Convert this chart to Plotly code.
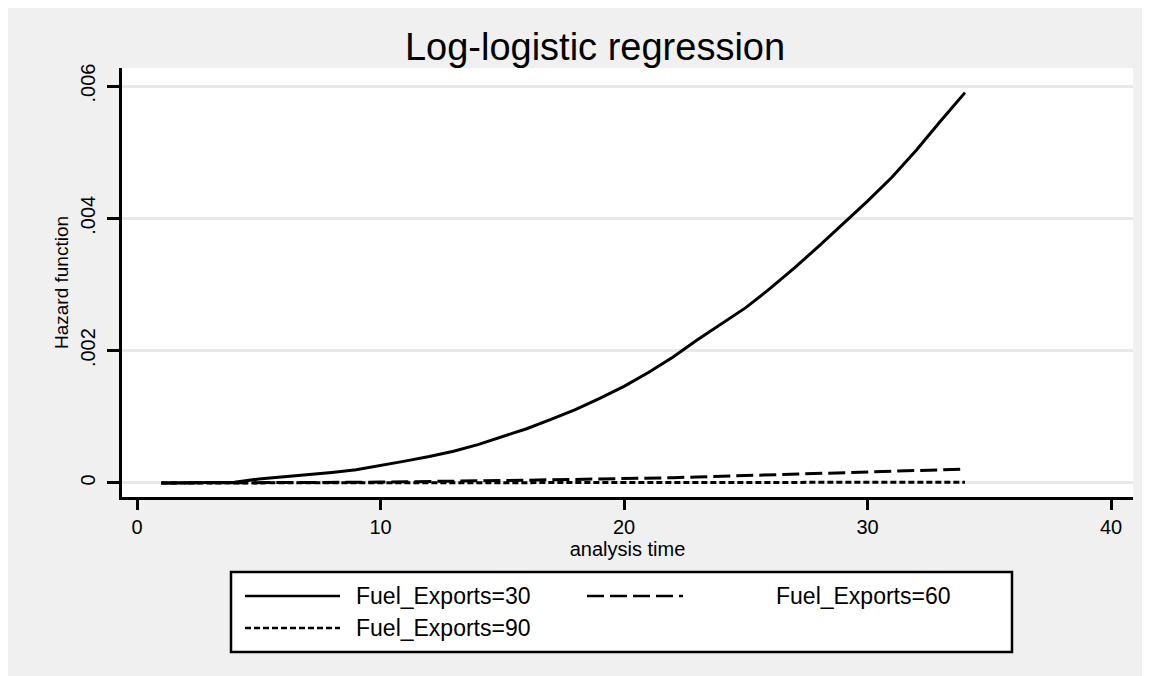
import plotly.graph_objects as go

# ---------------- data ----------------
series_names = ["Fuel_Exports=30", "Fuel_Exports=60", "Fuel_Exports=90"]
analysis_time = [1, 2, 3, 4, 5, 6, 7, 8, 9, 10, 11, 12, 13, 14, 15, 16, 17,
                 18, 19, 20, 21, 22, 23, 24, 25, 26, 27, 28, 29, 30, 31, 32, 33, 34]
hazard_30 = [0.0, 0.0, 0.0, 0.00001, 0.00006, 0.00009, 0.00012, 0.00016, 0.0002,
             0.00026, 0.00033, 0.0004, 0.00048, 0.00058, 0.0007, 0.00082, 0.00096,
             0.00111, 0.00128, 0.00146, 0.00167, 0.0019, 0.00216, 0.0024, 0.00265,
             0.00294, 0.00325, 0.00358, 0.00392, 0.00426, 0.00462, 0.00503, 0.00547, 0.0059]
hazard_60 = [0.0, 0.0, 0.0, 0.0, 0.0, 0.000003, 0.000005, 0.000007, 0.00001,
             0.000013, 0.000016, 0.00002, 0.000025, 0.00003, 0.000035, 0.000042,
             0.000048, 0.000053, 0.00006, 0.000067, 0.000073, 0.00008, 0.00009,
             0.0001, 0.00011, 0.00012, 0.00013, 0.00014, 0.00015, 0.000162,
             0.000175, 0.000188, 0.0002, 0.00021]
hazard_90 = [0.0, 0.0, 0.0, 0.0, 0.0, 0.0, 0.0, 0.0, 0.0, 0.0, 0.0, 0.0, 0.0, 0.0,
             0.0, 0.000001, 0.000001, 0.000002, 0.000002, 0.000003, 0.000003,
             0.000004, 0.000004, 0.000005, 0.000005, 0.000006, 0.000007, 0.000007,
             0.000008, 0.000009, 0.00001, 0.00001, 0.000011, 0.000012]
x_tickvals = [0, 10, 20, 30, 40]
x_ticktext = ["0", "10", "20", "30", "40"]
y_tickvals = [0, 0.002, 0.004, 0.006]
y_ticktext = ["0", ".002", ".004", ".006"]

# ---------------- styling ----------------
FONT = "Liberation Sans, Arial, Helvetica, sans-serif"
W, H = 1154, 676
OFF = 8  # page body margin: screen px = figure px + OFF
PLOT_L, PLOT_R, PLOT_T, PLOT_B = 122, 1133, 68, 497   # screen px of plot area
ML = PLOT_L - OFF
MT = PLOT_T - OFF
MR = W - (PLOT_R - OFF)
MB = H - (PLOT_B - OFF)
PW, PH = W - ML - MR, H - MT - MB

def px_x(sx):
    return (sx - PLOT_L) / PW

def px_y(sy):
    return (PLOT_B - sy) / PH

dashes = ["solid", "17px,6px", "6px,3px"]
series_values = [hazard_30, hazard_60, hazard_90]

fig = go.Figure()
for name, vals, dash in zip(series_names, series_values, dashes):
    fig.add_trace(go.Scatter(
        x=analysis_time, y=vals, mode="lines", name=name,
        line=dict(color="black", width=3, dash=dash),
        showlegend=False,
    ))

shapes = [
    # grey outer region
    dict(type="rect", xref="paper", yref="paper", layer="below",
         x0=px_x(0), x1=px_x(1142), y0=px_y(690), y1=px_y(0),
         fillcolor="#f0f0f0", line=dict(width=0)),
    # white plot region
    dict(type="rect", xref="paper", yref="paper", layer="below",
         x0=0, x1=1, y0=0, y1=1, fillcolor="white", line=dict(width=0)),
    # legend box
    dict(type="rect", xref="paper", yref="paper",
         x0=px_x(231), x1=px_x(1012), y0=px_y(652), y1=px_y(572),
         fillcolor="white", line=dict(color="black", width=2.5)),
]

annotations = []
legend_slots = [((245, 340, 354), 596), ((587, 683, 774), 596), ((245, 340, 354), 628)]
for name, dash, ((lx0, lx1, tx), ly) in zip(series_names, dashes, legend_slots):
    shapes.append(dict(type="line", xref="paper", yref="paper",
                       x0=px_x(lx0), x1=px_x(lx1), y0=px_y(ly), y1=px_y(ly),
                       line=dict(color="black", width=2.5, dash=dash)))
    annotations.append(dict(xref="paper", yref="paper", x=px_x(tx), y=px_y(ly),
                            xanchor="left", yanchor="middle", showarrow=False,
                            text=name, font=dict(family=FONT, size=23, color="black")))

fig.update_layout(
    width=W, height=H,
    margin=dict(l=ML, r=MR, t=MT, b=MB, autoexpand=False),
    paper_bgcolor="white", plot_bgcolor="white",
    font=dict(family=FONT, color="black"),
    title=dict(text="Log-logistic regression", x=(595 - OFF) / W, xanchor="center",
               y=1 - (47 - OFF) / H, yanchor="middle",
               font=dict(family=FONT, size=38, color="black")),
    shapes=shapes, annotations=annotations,
    showlegend=False,
)
fig.update_xaxes(
    range=[-0.616, 40.9], tickvals=x_tickvals, ticktext=x_ticktext,
    showgrid=False, zeroline=False, showline=True, linecolor="black", linewidth=3,
    ticks="outside", ticklen=10, tickwidth=3, tickcolor="black",
    tickfont=dict(family=FONT, size=20, color="black"),
    title=dict(text="analysis time", font=dict(family=FONT, size=20, color="black"), standoff=2),
    automargin=False,
)
fig.update_yaxes(
    range=[-0.000212, 0.006272], tickvals=y_tickvals, ticktext=y_ticktext,
    showgrid=True, gridcolor="#e8e8e8", gridwidth=2.5, zeroline=False,
    showline=True, linecolor="black", linewidth=3,
    ticks="outside", ticklen=12, tickwidth=3, tickcolor="black", tickangle=-90,
    ticklabelstandoff=4,
    tickfont=dict(family=FONT, size=20, color="black"),
    title=dict(text="Hazard function", font=dict(family=FONT, size=19, color="black"), standoff=4),
    automargin=False,
)

fig.write_html("out.html")
